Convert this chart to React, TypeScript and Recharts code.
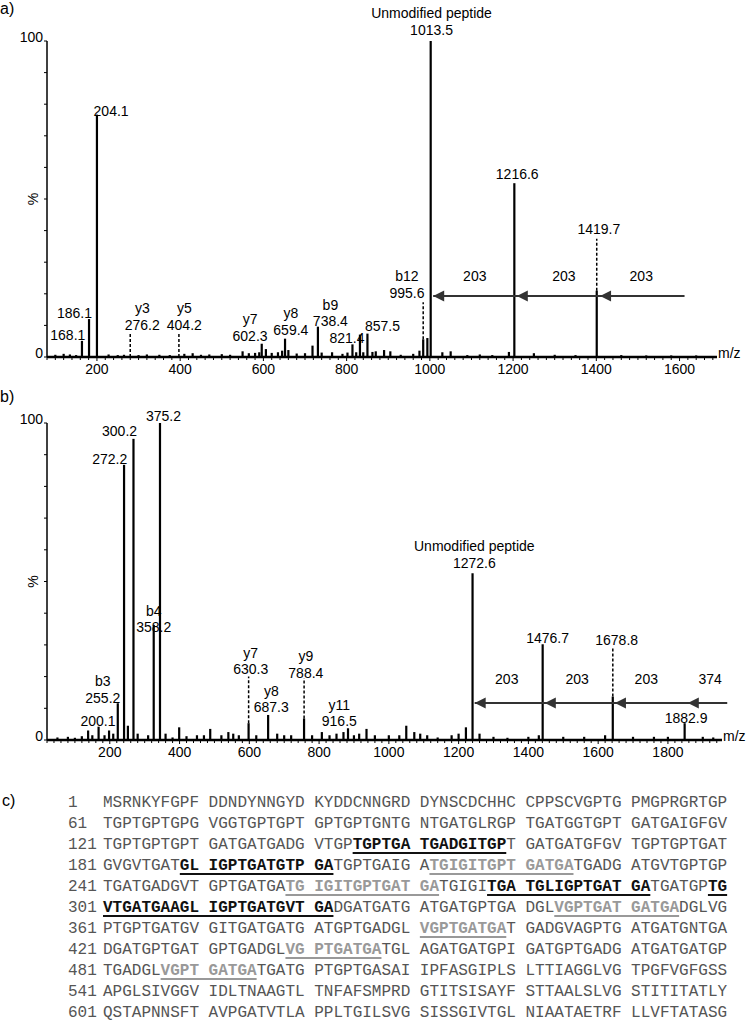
import React from "react";
import {
  ComposedChart,
  Bar,
  XAxis,
  YAxis,
  ReferenceLine,
  ReferenceDot,
} from "recharts";

const SANS = "'Liberation Sans', Arial, sans-serif";
const MONO = "'Liberation Mono', 'Courier New', monospace";

// ---------- panel a ----------
// [m/z as drawn on the axis, intensity %]
const peaksA: [number, number][] = [
  [100, 0.7], [120, 1], [135, 0.8], [150, 0.6], [164, 5.1], [181, 12], [200, 76.7],
  [228, 0.8], [250, 0.6], [265, 0.7], [300, 0.6], [320, 0.8], [350, 0.7],
  [375, 0.6], [410, 1], [430, 1.2], [450, 0.7], [470, 0.8], [500, 0.9],
  [520, 0.7], [550, 1.8], [565, 1.2], [580, 1.3], [590, 1.5],
  [596, 4.2], [606, 2.5], [620, 1.3], [635, 1.5], [645, 2], [652, 5.8],
  [660, 2.2], [680, 1.1], [700, 1.2], [718, 3.6], [731, 9.6], [740, 1.4],
  [765, 1.5], [790, 1], [802, 1.4], [814, 4], [823, 1.5], [832, 7.1],
  [840, 1.5], [850, 7.4], [862, 1.6], [870, 1.8], [890, 2.2], [905, 1.8],
  [930, 0.7], [960, 1], [975, 2], [984, 5.6], [994, 6], [1002, 100],
  [1030, 1.5], [1050, 1.8], [1090, 0.6], [1120, 0.8], [1150, 0.6], [1190, 1.6],
  [1203, 55], [1250, 1.2], [1300, 0.7], [1350, 0.6], [1401, 21],
  [1460, 0.6], [1520, 0.5], [1580, 0.5], [1640, 0.5],
];
// dashed markers: [m/z, from %, to %]
const dashedA: [number, number, number][] = [
  [280, 0, 7.7], [397, 0, 7.7], [984, 5.6, 17.3], [1401, 21, 37.4],
];
// peak annotations: [m/z, % of last line, lines]
const labelsA: [number, number, string[]][] = [
  [1004, 101.9, ["Unmodified peptide", "1013.5"]],
  [234, 76.4, ["204.1"]],
  [1210, 56.2, ["1216.6"]],
  [1406, 38.9, ["1419.7"]],
  [945, 18.7, ["b12", "995.6"]],
  [146, 12.3, ["186.1"]],
  [130, 5.5, ["168.1"]],
  [309, 8.7, ["y3", "276.2"]],
  [410, 8.7, ["y5", "404.2"]],
  [568, 5.2, ["y7", "602.3"]],
  [666, 7.1, ["y8", "659.4"]],
  [761, 9.8, ["b9", "738.4"]],
  [801, 4.4, ["821.4"]],
  [886, 8.2, ["857.5"]],
];
const gapsA: [number, number, string][] = [
  [1108, 24, "203"], [1322, 24, "203"], [1508, 24, "203"],
];
const arrowA = { y: 19.3, from: 1008, to: 1612 };
const headsA = [1008, 1209, 1409];

// ---------- panel b ----------
const peaksB: [number, number][] = [
  [50, 0.8], [80, 1], [100, 0.7], [120, 1.2], [138, 3], [150, 1.5], [168, 4.2],
  [185, 1.5], [198, 3], [210, 2], [223, 11.6], [241, 86.8], [252, 4.5],
  [268, 95], [280, 2], [310, 1.5], [326, 36.3], [344, 100],
  [360, 2], [380, 0.8], [399, 4], [420, 1.2], [450, 1.5], [470, 1.5], [488, 3.5],
  [520, 1.5], [540, 2.5], [554, 2], [570, 1.5], [598, 5.3], [620, 1.5],
  [654, 7.9], [680, 2], [700, 1.5], [720, 1.5], [757, 6.8], [780, 1.5],
  [808, 2.5], [830, 1.5], [850, 2], [870, 2.5], [883, 3.7], [900, 1.5],
  [915, 2], [936, 3.5], [960, 1.5], [1000, 1.5], [1030, 1.5], [1050, 4.5],
  [1073, 2.5], [1090, 2], [1110, 1.5], [1140, 0.8], [1180, 1.5], [1200, 2], [1221, 4],
  [1240, 52.6], [1260, 2], [1300, 1], [1340, 0.7], [1400, 1], [1430, 1.5],
  [1441, 30.2], [1500, 1], [1560, 1], [1620, 1.5], [1642, 13.7],
  [1700, 1], [1760, 1], [1800, 1], [1848, 5.3], [1900, 1], [1930, 0.8],
];
const dashedB: [number, number, number][] = [
  [598, 5.3, 20], [757, 6.8, 19.5], [1642, 13.7, 29],
];
const labelsB: [number, number, string[]][] = [
  [354, 100.6, ["375.2"]],
  [228, 95.9, ["300.2"]],
  [200, 87, ["272.2"]],
  [326, 34, ["b4", "358.2"]],
  [180, 11.7, ["b3", "255.2"]],
  [166, 4.4, ["200.1"]],
  [604, 20.8, ["y7", "630.3"]],
  [663, 8.8, ["y8", "687.3"]],
  [762, 19.6, ["y9", "788.4"]],
  [858, 4.4, ["y11", "916.5"]],
  [1245, 54.3, ["Unmodified peptide", "1272.6"]],
  [1455, 30.6, ["1476.7"]],
  [1653, 30.1, ["1678.8"]],
  [1852, 5.4, ["1882.9"]],
];
const gapsB: [number, number, string][] = [
  [1338, 17.7, "203"], [1540, 17.7, "203"], [1738, 17.7, "203"], [1921, 17.7, "374"],
];
const arrowB = { y: 11.7, from: 1246, to: 1970 };
const headsB = [1246, 1447, 1648, 1857];

// ---------- panel c ----------
const seqStarts = [1, 61, 121, 181, 241, 301, 361, 421, 481, 541, 601];
// [..] = bold black underlined, {..} = bold grey underlined
const seqLines = [
  "MSRNKYFGPF DDNDYNNGYD KYDDCNNGRD DYNSCDCHHC CPPSCVGPTG PMGPRGRTGP",
  "TGPTGPTGPG VGGTGPTGPT GPTGPTGNTG NTGATGLRGP TGATGGTGPT GATGAIGFGV",
  "TGPTGPTGPT GATGATGADG VTGP[TGPTGA TGADGITGP]T GATGATGFGV TGPTGPTGAT",
  "GVGVTGAT[GL IGPTGATGTP GA]TGPTGAIG A{TGIGITGPT GATGA}TGADG ATGVTGPTGP",
  "TGATGADGVT GPTGATGA{TG IGITGPTGAT GA}TGIGI[TGA TGLIGPTGAT GA]TGATGP[TG]",
  "[VTGATGAAGL IGPTGATGVT GA]DGATGATG ATGATGPTGA DGL{VGPTGAT GATGA}DGLVG",
  "PTGPTGATGV GITGATGATG ATGPTGADGL {VGPTGATGA}T GADGVAGPTG ATGATGNTGA",
  "DGATGPTGAT GPTGADGL{VG PTGATGA}TGL AGATGATGPI GATGPTGADG ATGATGATGP",
  "TGADGL{VGPT GATGA}TGATG PTGPTGASAI IPFASGIPLS LTTIAGGLVG TPGFVGFGSS",
  "APGLSIVGGV IDLTNAAGTL TNFAFSMPRD GTITSISAYF STTAALSLVG STITITATLY",
  "QSTAPNNSFT AVPGATVTLA PPLTGILSVG SISSGIVTGL NIAATAETRF LLVFTATASG",
];

const yTicks = [0, 10, 20, 30, 40, 50, 60, 70, 80, 90, 100];
const range = (a: number, b: number, s: number) => {
  const out: number[] = [];
  for (let v = a; v <= b; v += s) out.push(v);
  return out;
};

const XTick = (p: any) => {
  const v = p.payload.value;
  const major = v % 200 === 0;
  return (
    <g>
      <line x1={p.x} x2={p.x} y1={p.y} y2={p.y + (major ? 4 : 3)} stroke="#000" strokeWidth={1} />
      {major && (
        <text x={p.x} y={p.y + 17} textAnchor="middle" fontFamily={SANS} fontSize={14} fill="#000">
          {v}
        </text>
      )}
    </g>
  );
};

const YTick = (p: any) => {
  const v = p.payload.value;
  return (
    <g>
      <line x1={p.x - 3} x2={p.x} y1={p.y} y2={p.y} stroke="#000" strokeWidth={1} />
      {(v === 0 || v === 100) && (
        <text x={p.x - 4} y={p.y + 1} textAnchor="end" fontFamily={SANS} fontSize={14} fill="#000">
          {v}
        </text>
      )}
    </g>
  );
};

// peak stick, centred on the bar slot the scale gives
const Stick = (p: any) => (
  <rect x={p.x + p.width / 2 - 1.1} y={p.y} width={2.2} height={Math.max(p.height, 0)} fill="#000" />
);

const noteShape = (lines: string[]) => (p: any) => (
  <text textAnchor="middle" fontFamily={SANS} fontSize={14} fill="#000">
    {lines.map((l, i) => (
      <tspan key={i} x={p.cx} y={p.cy - (lines.length - 1 - i) * 16.5}>
        {l}
      </tspan>
    ))}
  </text>
);

const headShape = (p: any) => (
  <polygon
    points={`${p.cx},${p.cy} ${p.cx + 11},${p.cy - 5.5} ${p.cx + 11},${p.cy + 5.5}`}
    fill="#333"
  />
);

const mzShape = (p: any) => (
  <text x={p.cx + 1} y={p.cy + 1} fontFamily={SANS} fontSize={14} fill="#000">
    m/z
  </text>
);

type SpectrumProps = {
  peaks: [number, number][];
  dashed: [number, number, number][];
  labels: [number, number, string[]][];
  gaps: [number, number, string][];
  arrow: { y: number; from: number; to: number };
  heads: number[];
  domain: [number, number];
  ticks: number[];
  height: number;
  margin: { top: number; right: number; bottom: number; left: number };
};

function Spectrum(props: SpectrumProps) {
  const data = props.peaks.map(([mz, h]) => ({ mz, h }));
  return (
    <ComposedChart width={750} height={props.height} data={data} margin={props.margin}>
      <XAxis
        type="number"
        dataKey="mz"
        domain={props.domain}
        ticks={props.ticks}
        interval={0}
        tickSize={0}
        tickMargin={0}
        tickLine={false}
        tick={XTick}
        axisLine={{ stroke: "#000", strokeWidth: 2.5 }}
        height={25}
        allowDataOverflow
      />
      <YAxis
        type="number"
        domain={[0, 100]}
        ticks={yTicks}
        interval={0}
        tickSize={0}
        tickMargin={0}
        tickLine={false}
        tick={YTick}
        axisLine={{ stroke: "#000", strokeWidth: 1.5 }}
        width={30}
        label={{
          value: "%",
          angle: -90,
          position: "center",
          dx: 1,
          style: { fontFamily: SANS, fontSize: 14, fill: "#000" },
        }}
      />
      <Bar dataKey="h" fill="#000" shape={Stick} isAnimationActive={false} />
      {props.dashed.map(([x, y1, y2], i) => (
        <ReferenceLine
          key={`d${i}`}
          segment={[{ x, y: y1 }, { x, y: y2 }]}
          stroke="#000"
          strokeWidth={1.5}
          strokeDasharray="3 2"
          ifOverflow="visible"
        />
      ))}
      <ReferenceLine
        segment={[
          { x: props.arrow.from, y: props.arrow.y },
          { x: props.arrow.to, y: props.arrow.y },
        ]}
        stroke="#333"
        strokeWidth={2}
        ifOverflow="visible"
      />
      {props.heads.map((x, i) => (
        <ReferenceDot key={`h${i}`} x={x} y={props.arrow.y} r={0} shape={headShape} ifOverflow="visible" />
      ))}
      {props.gaps.map(([x, y, t], i) => (
        <ReferenceDot key={`g${i}`} x={x} y={y} r={0} shape={noteShape([t])} ifOverflow="visible" />
      ))}
      {props.labels.map(([x, y, lines], i) => (
        <ReferenceDot key={`l${i}`} x={x} y={y} r={0} shape={noteShape(lines)} ifOverflow="visible" />
      ))}
      <ReferenceDot x={props.domain[1]} y={0} r={0} shape={mzShape} ifOverflow="visible" />
    </ComposedChart>
  );
}

function SeqLine({ text }: { text: string }) {
  const parts = text.split(/(\[[^\]]*\]|\{[^}]*\})/).filter((s) => s.length > 0);
  return (
    <>
      {parts.map((s, i) => {
        if (s[0] === "[" || s[0] === "{") {
          const grey = s[0] === "{";
          return (
            <span
              key={i}
              style={{
                fontWeight: "bold",
                color: grey ? "#999" : "#111",
                textDecoration: "underline",
                textDecorationThickness: 2,
                textUnderlineOffset: 3,
              }}
            >
              {s.slice(1, -1)}
            </span>
          );
        }
        return <span key={i}>{s}</span>;
      })}
    </>
  );
}

const panelLetter: React.CSSProperties = {
  position: "absolute",
  fontFamily: SANS,
  fontSize: 16,
  color: "#000",
  lineHeight: "16px",
};

export default function App() {
  return (
    <div
      style={{
        position: "absolute",
        left: 0,
        top: 0,
        width: 750,
        height: 1027,
        background: "#fff",
        overflow: "hidden",
      }}
    >
      <div style={{ ...panelLetter, left: 0, top: 1 }}>a)</div>
      <div style={{ position: "absolute", left: 0, top: 0 }}>
        <Spectrum
          peaks={peaksA}
          dashed={dashedA}
          labels={labelsA}
          gaps={gapsA}
          arrow={arrowA}
          heads={headsA}
          domain={[80, 1690]}
          ticks={range(80, 1680, 20)}
          height={390}
          margin={{ top: 41, right: 33, bottom: 8, left: 17 }}
        />
      </div>
      <div style={{ ...panelLetter, left: 0, top: 389 }}>b)</div>
      <div style={{ position: "absolute", left: 0, top: 390 }}>
        <Spectrum
          peaks={peaksB}
          dashed={dashedB}
          labels={labelsB}
          gaps={gapsB}
          arrow={arrowB}
          heads={headsB}
          domain={[20, 1955]}
          ticks={range(20, 1940, 20)}
          height={400}
          margin={{ top: 33, right: 28, bottom: 25, left: 17 }}
        />
      </div>
      <div style={{ ...panelLetter, left: 2, top: 793 }}>c)</div>
      {seqLines.map((line, i) => (
        <div
          key={i}
          style={{
            position: "absolute",
            top: 793 + i * 21,
            left: 0,
            width: 750,
            height: 21,
            fontFamily: MONO,
            fontSize: 16,
            lineHeight: "21px",
            color: "#555",
            whiteSpace: "pre",
          }}
        >
          <span style={{ position: "absolute", left: 68 }}>{seqStarts[i]}</span>
          <span style={{ position: "absolute", left: 103 }}>
            <SeqLine text={line} />
          </span>
        </div>
      ))}
    </div>
  );
}
